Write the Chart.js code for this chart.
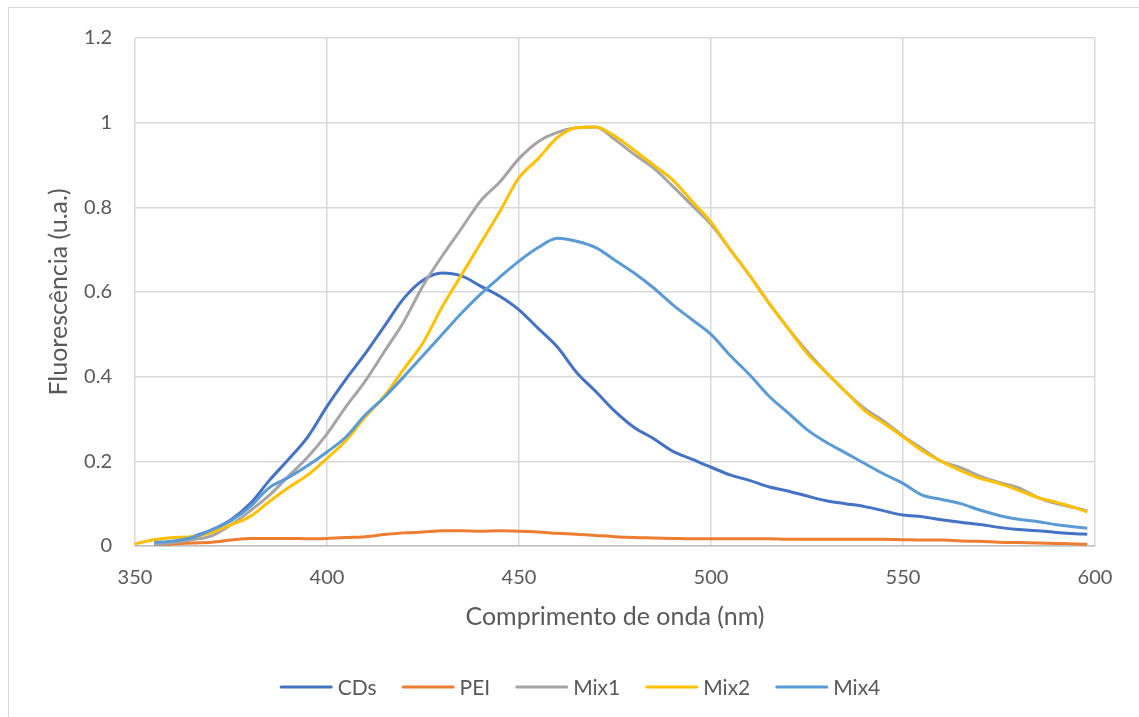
<!DOCTYPE html>
<html>
<head>
<meta charset="utf-8">
<script src="https://cdn.jsdelivr.net/npm/chart.js@4/dist/chart.umd.min.js"></script>
<style>
  html, body { margin: 0; padding: 0; background: #ffffff; overflow: hidden; }
  #wrap { position: relative; width: 1139px; height: 717px; }
  #frame { position: absolute; left: 8px; top: 7px; width: 1200px; height: 800px; border: 1px solid #d9d9d9; box-sizing: border-box; }
  canvas { position: absolute; left: 0; top: 0; }
</style>
</head>
<body>
<div id="wrap">
  <div id="frame"></div>
  <canvas id="c" width="1139" height="717"></canvas>
</div>
<script>
const wavelengths = [350,355,360,365,370,375,380,385,390,395,400,405,410,415,420,425,430,435,440,445,450,455,460,465,470,475,480,485,490,495,500,505,510,515,520,525,530,535,540,545,550,555,560,565,570,575,580,585,590,595,598];

const cds = [null,0.003,0.01,0.022,0.038,0.062,0.1,0.155,0.205,0.258,0.33,0.395,0.455,0.52,0.585,0.628,0.645,0.638,0.614,0.59,0.558,0.514,0.47,0.41,0.365,0.318,0.28,0.254,0.224,0.205,0.186,0.168,0.155,0.14,0.13,0.118,0.107,0.1,0.093,0.083,0.073,0.069,0.062,0.056,0.051,0.044,0.039,0.036,0.032,0.029,0.028];

const pei = [null,0.002,0.005,0.007,0.009,0.014,0.018,0.018,0.018,0.017,0.018,0.02,0.022,0.027,0.031,0.033,0.036,0.036,0.035,0.036,0.035,0.033,0.03,0.028,0.025,0.022,0.02,0.019,0.018,0.017,0.017,0.017,0.017,0.017,0.016,0.016,0.016,0.016,0.016,0.016,0.015,0.014,0.014,0.012,0.011,0.009,0.008,0.007,0.006,0.005,0.004];

const mix1 = [null,0.003,0.008,0.015,0.024,0.05,0.083,0.12,0.165,0.21,0.265,0.33,0.39,0.46,0.53,0.615,0.685,0.75,0.815,0.86,0.915,0.955,0.977,0.988,0.99,0.96,0.925,0.893,0.85,0.805,0.76,0.7,0.64,0.575,0.515,0.46,0.41,0.365,0.325,0.295,0.26,0.23,0.2,0.185,0.165,0.15,0.138,0.115,0.1,0.09,0.083];

const mix2 = [0.005,0.015,0.02,0.022,0.032,0.05,0.07,0.105,0.138,0.168,0.207,0.25,0.305,0.355,0.418,0.48,0.565,0.64,0.715,0.79,0.87,0.915,0.965,0.988,0.99,0.968,0.935,0.9,0.865,0.815,0.765,0.7,0.64,0.575,0.515,0.455,0.41,0.365,0.32,0.29,0.258,0.225,0.2,0.178,0.16,0.148,0.132,0.115,0.103,0.09,0.08];

const mix4 = [null,0.008,0.012,0.02,0.038,0.06,0.093,0.138,0.162,0.19,0.222,0.258,0.31,0.352,0.4,0.45,0.5,0.55,0.595,0.635,0.673,0.705,0.727,0.72,0.705,0.675,0.645,0.61,0.57,0.535,0.5,0.45,0.405,0.355,0.315,0.275,0.245,0.22,0.195,0.17,0.148,0.12,0.11,0.1,0.085,0.072,0.063,0.058,0.05,0.045,0.042];

const seriesNames = ['CDs','PEI','Mix1','Mix2','Mix4'];
const seriesValues = [cds, pei, mix1, mix2, mix4];
const seriesColors = ['#4472C4','#ED7D31','#A5A5A5','#FFC000','#5B9BD5'];
const xTicks = [350,400,450,500,550,600];
const yTicks = [0,0.2,0.4,0.6,0.8,1,1.2];

const FONT = 'Lato, "Open Sans", sans-serif';
const TXT = '#595959';

const toPoints = arr => arr.map((v,i) => ({x: wavelengths[i], y: v}));

const legendPlugin = {
  id: 'customLegend',
  afterDraw(chart) {
    const ctx = chart.ctx;
    ctx.save();
    ctx.font = '21px ' + FONT;
    ctx.textBaseline = 'middle';
    const y = 687;
    const lineLen = 53, gap = 5, itemGap = 25;
    const items = chart.data.datasets.map(d => ({label: d.label, color: d.borderColor, w: lineLen + gap + ctx.measureText(d.label).width}));
    const total = items.reduce((s,it) => s + it.w, 0) + itemGap * (items.length - 1);
    let x = 580 - total / 2;
    items.forEach(it => {
      ctx.strokeStyle = it.color;
      ctx.lineWidth = 3;
      ctx.lineCap = 'round';
      ctx.beginPath();
      ctx.moveTo(x + 1.5, y);
      ctx.lineTo(x + lineLen - 1.5, y);
      ctx.stroke();
      ctx.fillStyle = TXT;
      ctx.textAlign = 'left';
      ctx.fillText(it.label, x + lineLen + gap, y + 1);
      x += it.w + itemGap;
    });
    ctx.restore();
  }
};

new Chart(document.getElementById('c'), {
  type: 'line',
  data: {
    datasets: seriesNames.map((n, i) => ({
      label: n,
      data: toPoints(seriesValues[i]),
      borderColor: seriesColors[i],
      backgroundColor: seriesColors[i],
      borderWidth: 3,
      pointRadius: 0,
      tension: 0.4,
      cubicInterpolationMode: 'monotone',
      fill: false,
      order: [4,5,3,2,1][i]
    }))
  },
  options: {
    responsive: false,
    animation: false,
    devicePixelRatio: 1,
    layout: { padding: { left: 40, right: 44, top: 38, bottom: 77 } },
    plugins: {
      legend: { display: false },
      tooltip: { enabled: false }
    },
    scales: {
      x: {
        type: 'linear',
        min: 350, max: 600,
        afterBuildTicks: s => { s.ticks = xTicks.map(v => ({value: v})); },
        afterFit: s => { s.height = 94; },
        grid: { color: '#d9d9d9', lineWidth: 1.5, drawTicks: false },
        border: { display: true, color: '#bfbfbf', width: 1.5 },
        ticks: { color: TXT, font: { family: FONT, size: 20 }, padding: 20, maxRotation: 0 },
        title: { display: true, text: 'Comprimento de onda (nm)', color: TXT, font: { family: FONT, size: 25 }, padding: { top: 0, bottom: 8 } }
      },
      y: {
        min: 0, max: 1.2,
        afterBuildTicks: s => { s.ticks = yTicks.map(v => ({value: v})); },
        afterFit: s => { s.width = 95; },
        grid: { color: '#d9d9d9', lineWidth: 1.5, drawTicks: false },
        border: { display: false },
        ticks: { color: TXT, font: { family: FONT, size: 20 }, padding: 23, callback: v => String(Math.round(v * 10) / 10) },
        title: { display: true, text: 'Fluorescência (u.a.)', color: TXT, font: { family: FONT, size: 25 }, padding: { top: 4, bottom: 0 } }
      }
    }
  },
  plugins: [legendPlugin]
});
</script>
</body>
</html>
